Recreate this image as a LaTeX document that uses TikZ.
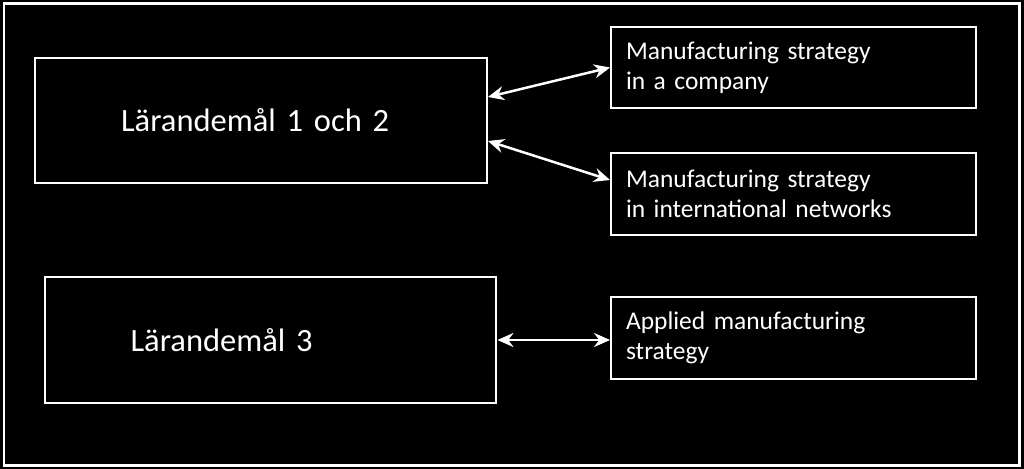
\documentclass[tikz,border=0pt]{standalone}
\usepackage{fontspec}
\setmainfont[WordSpace=0.8]{Carlito}
\usetikzlibrary{arrows.meta}

\tikzset{
	goalbox/.style={draw=white, line width=0.04cm, text=white, align=left, text width=9.04cm-3.44cm, inner xsep=1.72cm, minimum height=2.5cm, font=\fontsize{18.5}{22}\selectfont},
	topicbox/.style={draw=white, line width=0.04cm, text=white, align=left, text width=7.3cm-0.6cm, inner xsep=0.3cm, minimum height=1.66cm, font=\fontsize{14.5}{17}\selectfont},
	link/.style={white, line width=0.05cm, {Stealth[length=0.32cm, width=0.28cm]}-{Stealth[length=0.32cm, width=0.28cm]}}
}

\begin{document}
\begin{tikzpicture}[x=0.02cm, y=-0.02cm]
			\fill[black] (0, 0) rectangle (1024, 469);
			\draw[white, line width=0.06cm] (4, 4) rectangle (1019, 465);
			% learning goals
			\node[goalbox] (goal12) at (261, 120.5) {Lärandemål 1 och 2};
			\node[goalbox, minimum height=2.52cm] (goal3) at (270.5, 340) {Lärandemål 3};
			% topics
			\node[topicbox, minimum height=1.62cm] (company) at (793.5, 67.5) {Manufacturing strategy\\in a company};
			\node[topicbox] (network) at (793.5, 194) {Manufacturing strategy\\in international networks};
			\node[topicbox] (applied) at (793.5, 338) {Applied manufacturing\\strategy};
			% links
			\draw[link] ([yshift=0.47cm]goal12.east) -- (company.west);
			\draw[link] ([yshift=-0.41cm]goal12.east) -- ([yshift=0.28cm]network.west);
			\draw[link] (goal3.east) -- (goal3.east -| applied.west);
		\end{tikzpicture}
\end{document}
